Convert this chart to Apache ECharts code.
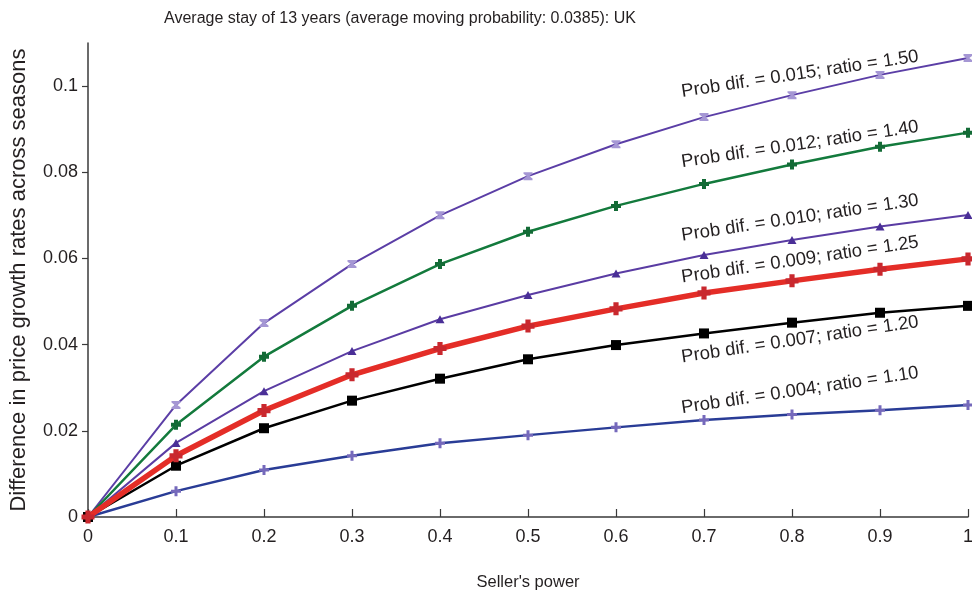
<!DOCTYPE html>
<html>
<head>
<meta charset="utf-8">
<script src="https://cdn.jsdelivr.net/npm/echarts@6/dist/echarts.min.js"></script>
<style>
  html, body { margin: 0; padding: 0; background: #fff; }
  #chart { width: 972px; height: 593px; }
</style>
</head>
<body>
<div id="chart"></div>
<script>
// Seller's power on the horizontal axis
const sellerPower = [0, 0.1, 0.2, 0.3, 0.4, 0.5, 0.6, 0.7, 0.8, 0.9, 1];

// Difference in price growth rates across seasons, one curve per probability gap
const ratio150 = [0, 0.0260, 0.0450, 0.0587, 0.0700, 0.0791, 0.0865, 0.0928, 0.0979, 0.1026, 0.1065];
const ratio140 = [0, 0.0214, 0.0372, 0.0490, 0.0587, 0.0662, 0.0722, 0.0773, 0.0818, 0.0859, 0.0892];
const ratio130 = [0, 0.0172, 0.0292, 0.0385, 0.0459, 0.0515, 0.0565, 0.0608, 0.0643, 0.0674, 0.0701];
const ratio125 = [0, 0.0142, 0.0247, 0.0330, 0.0391, 0.0443, 0.0483, 0.0520, 0.0548, 0.0575, 0.0599];
const ratio120 = [0, 0.0119, 0.0206, 0.0270, 0.0321, 0.0366, 0.0399, 0.0426, 0.0451, 0.0474, 0.0490];
const ratio110 = [0, 0.0060, 0.0109, 0.0142, 0.0171, 0.0190, 0.0208, 0.0225, 0.0238, 0.0248, 0.0260];

// Curve annotations
const curveLabels = [
  'Prob dif. = 0.015; ratio = 1.50',
  'Prob dif. = 0.012; ratio = 1.40',
  'Prob dif. = 0.010; ratio = 1.30',
  'Prob dif. = 0.009; ratio = 1.25',
  'Prob dif. = 0.007; ratio = 1.20',
  'Prob dif. = 0.004; ratio = 1.10'
];

const titleText = 'Average stay of 13 years (average moving probability: 0.0385): UK';
const xName = "Seller's power";
const yName = 'Difference in price growth rates across seasons';

const FONT = '"Liberation Sans", Arial, Helvetica, sans-serif';
const TXT = '#231f20';

const pair = vals => sellerPower.map((x, i) => [x, vals[i]]);

// marker shapes
const HOURGLASS = 'path://M0,0 L10,0 L10,2 L6.5,5 L10,8 L10,10 L0,10 L0,8 L3.5,5 L0,2 Z';
const PLUS = 'path://M3.5,0 L6.5,0 L6.5,3.5 L10,3.5 L10,6.5 L6.5,6.5 L6.5,10 L3.5,10 L3.5,6.5 L0,6.5 L0,3.5 L3.5,3.5 Z';
const FATPLUS = 'path://M3,0 L7,0 L7,3 L10,3 L10,7 L7,7 L7,10 L3,10 L3,7 L0,7 L0,3 L3,3 Z';

function curve(name, vals, lineColor, lineWidth, symbol, symbolSize, symColor, z) {
  return {
    name: name,
    type: 'line',
    data: pair(vals),
    z: z,
    symbol: symbol,
    symbolSize: symbolSize,
    showAllSymbol: true,
    lineStyle: { color: lineColor, width: lineWidth },
    itemStyle: { color: symColor, borderWidth: 0 },
    emphasis: { disabled: true },
    animation: false
  };
}

const series = [
  curve('1.50', ratio150, '#5b3ea6', 2, HOURGLASS, [9, 8], '#a597d4', 3),
  curve('1.40', ratio140, '#137a3c', 2.5, FATPLUS, 10, '#136b36', 4),
  curve('1.30', ratio130, '#5a3ca3', 2, 'triangle', [9, 8], '#4a2f97', 5),
  curve('1.20', ratio120, '#000000', 2.5, 'rect', 10, '#000000', 6),
  curve('1.10', ratio110, '#293c96', 2.5, PLUS, 10, '#7569bb', 7),
  curve('1.25', ratio125, '#e42d27', 5.5, FATPLUS, 13, '#c9282e', 8)
];

const chart = echarts.init(document.getElementById('chart'), null, { renderer: 'canvas' });

chart.setOption({
  animation: false,
  backgroundColor: '#ffffff',
  textStyle: { fontFamily: FONT },
  title: {
    text: titleText,
    left: 395,
    top: 6,
    textAlign: 'center',
    textStyle: { fontFamily: FONT, fontSize: 16, fontWeight: 'normal', color: TXT }
  },
  grid: { left: 88, right: 4, top: 43, bottom: 76, containLabel: false, outerBoundsMode: 'none' },
  xAxis: {
    type: 'value',
    min: 0, max: 1, interval: 0.1,
    name: xName,
    nameLocation: 'middle',
    nameGap: 57,
    nameTextStyle: { fontFamily: FONT, fontSize: 16.5, color: TXT },
    axisLine: { lineStyle: { color: '#3a3a3a', width: 1.5 } },
    axisTick: { inside: true, length: 8, lineStyle: { color: '#3a3a3a', width: 1.2 } },
    axisLabel: { fontFamily: FONT, fontSize: 18, color: TXT, margin: 11,
      formatter: v => String(+v.toFixed(1)) },
    splitLine: { show: false }
  },
  yAxis: {
    type: 'value',
    min: 0, max: 0.11, interval: 0.02,
    name: yName,
    nameLocation: 'middle',
    nameGap: 58,
    nameRotate: 90,
    nameTextStyle: { fontFamily: FONT, fontSize: 22, color: TXT },
    axisLine: { lineStyle: { color: '#3a3a3a', width: 1.5 } },
    axisTick: { inside: false, length: 6, lineStyle: { color: '#3a3a3a', width: 1.2 } },
    axisLabel: { fontFamily: FONT, fontSize: 18, color: TXT, margin: 10, showMaxLabel: false,
      formatter: v => v > 0.105 ? '' : String(+v.toFixed(2)) },
    splitLine: { show: false }
  },
  series: series
});

// Curve annotations, set along each line near seller's power 0.8
const labelSeries = [ratio150, ratio140, ratio130, ratio125, ratio120, ratio110];
const labelShift = [-21, -20, -22, -21, 17, -24];
const anchorIdx = 8;
const angle = 8.5 * Math.PI / 180;
const texts = curveLabels.map((t, k) => {
  const p = chart.convertToPixel({ gridIndex: 0 }, [sellerPower[anchorIdx], labelSeries[k][anchorIdx]]);
  return {
    type: 'text',
    x: p[0] + 8,
    y: p[1] + labelShift[k],
    rotation: angle,
    z: 20,
    style: {
      text: t,
      fill: TXT,
      font: '18.5px ' + FONT,
      textAlign: 'center',
      textVerticalAlign: 'middle'
    }
  };
});
chart.setOption({ graphic: texts });
</script>
</body>
</html>
